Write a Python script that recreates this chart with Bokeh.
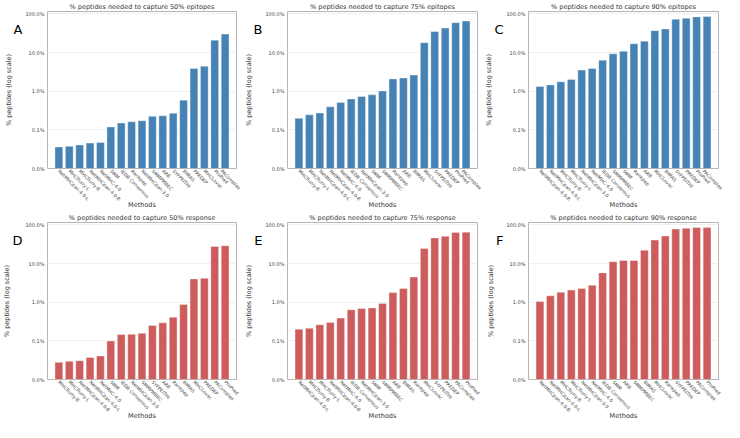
from bokeh.plotting import figure
from bokeh.layouts import gridplot
from bokeh.models import (FactorRange, FixedTicker, PrintfTickFormatter, ColumnDataSource,
                          LogAxis, CustomJSTickFormatter)
from bokeh.embed import file_html
from bokeh.resources import INLINE

# ---- data (values in % of peptides) ----
titles = [
    "% peptides needed to capture 50% epitopes",
    "% peptides needed to capture 75% epitopes",
    "% peptides needed to capture 90% epitopes",
    "% peptides needed to capture 50% response",
    "% peptides needed to capture 75% response",
    "% peptides needed to capture 90% response",
]
letters = ["A", "B", "C", "D", "E", "F"]

methods_a = ["NetMHCpan-4.0-L", "MHCflurry-L", "MHCflurry-B", "NetMHCpan-4.0-B", "NetMHC-4.0", "SMM",
             "IEDB Consensus", "Rankpep", "NetMHCpan-3.0", "SMMPMBEC", "ARB", "SYFPEITHI", "BIMAS",
             "PREDEP", "MHCLovac", "ProPred", "PAComplex"]
values_a = [0.036, 0.0376, 0.0406, 0.0454, 0.0472, 0.119, 0.150, 0.161, 0.171, 0.223, 0.231, 0.269,
            0.585, 3.87, 4.42, 20.9, 29.9]

methods_b = ["MHCflurry-B", "MHCflurry-L", "NetMHCpan-4.0-L", "NetMHCpan-4.0-B", "NetMHC-4.0",
             "IEDB Consensus", "NetMHCpan-3.0", "SMM", "SMMPMBEC", "Rankpep", "ARB", "BIMAS",
             "MHCLovac", "SYFPEITHI", "PREDEP", "ProPred", "PAComplex"]
values_b = [0.199, 0.245, 0.274, 0.393, 0.512, 0.63, 0.733, 0.805, 1.01, 2.08, 2.2, 2.61, 17.9,
            34.8, 42.8, 59.1, 65.0]

methods_c = ["NetMHCpan-4.0-B", "NetMHCpan-4.0-L", "MHCflurry-B", "MHCflurry-L", "NetMHCpan-3.0",
             "NetMHC-4.0", "IEDB Consensus", "SMMPMBEC", "SMM", "Rankpep", "ARB", "MHCLovac", "BIMAS",
             "SYFPEITHI", "PREDEP", "ProPred", "PAComplex"]
values_c = [1.32, 1.45, 1.75, 2.0, 3.52, 3.87, 6.31, 9.24, 10.8, 16.9, 19.7, 36.8, 40.5, 72.8,
            77.1, 83.2, 84.8]

methods_d = ["MHCflurry-B", "MHCflurry-L", "NetMHCpan-4.0-B", "NetMHCpan-4.0-L", "NetMHC-4.0", "SMM",
             "IEDB Consensus", "NetMHCpan-3.0", "SMMPMBEC", "SYFPEITHI", "ARB", "Rankpep", "BIMAS",
             "MHCLovac", "PREDEP", "PAComplex", "ProPred"]
values_d = [0.0278, 0.0295, 0.0306, 0.037, 0.0406, 0.099, 0.145, 0.147, 0.156, 0.25, 0.292, 0.41,
            0.875, 3.99, 4.14, 27.5, 28.6]

methods_e = ["NetMHCpan-4.0-L", "MHCflurry-B", "MHCflurry-L", "NetMHCpan-4.0-B", "NetMHC-4.0",
             "IEDB Consensus", "NetMHCpan-3.0", "SMM", "SMMPMBEC", "ARB", "BIMAS", "Rankpep",
             "MHCLovac", "SYFPEITHI", "PREDEP", "PAComplex", "ProPred"]
values_e = [0.2, 0.211, 0.26, 0.297, 0.387, 0.635, 0.684, 0.711, 0.927, 1.77, 2.26, 4.47, 24.6,
            46.0, 50.6, 63.4, 64.7]

methods_f = ["NetMHCpan-4.0-B", "NetMHCpan-4.0-L", "MHCflurry-B", "MHCflurry-L", "NetMHCpan-3.0",
             "NetMHC-4.0", "IEDB Consensus", "SMM", "ARB", "SMMPMBEC", "BIMAS", "MHCLovac", "Rankpep",
             "SYFPEITHI", "PREDEP", "PAComplex", "ProPred"]
values_f = [1.04, 1.46, 1.8, 2.05, 2.26, 2.73, 5.72, 11.1, 12.0, 12.0, 22.0, 40.3, 51.5, 78.1,
            81.1, 85.9, 85.9]

y_ticks = [0.01, 0.1, 1, 10, 100]
y_start, y_end = 0.01, 115

BLUE = "#4682b4"
RED = "#cd5c5c"
FONT = "DejaVu Sans"

panels = [
    (methods_a, values_a, BLUE),
    (methods_b, values_b, BLUE),
    (methods_c, values_c, BLUE),
    (methods_d, values_d, RED),
    (methods_e, values_e, RED),
    (methods_f, values_f, RED),
]


def no_ticks(ax):
    ax.major_tick_line_color = None
    ax.minor_tick_line_color = None
    ax.major_tick_out = 0
    ax.major_tick_in = 0
    ax.minor_tick_out = 0
    ax.minor_tick_in = 0
    ax.axis_line_color = None


figs = []
for i, (cats, vals, color) in enumerate(panels):
    p = figure(width=241, height=211, x_range=FactorRange(*cats, range_padding=0.07),
               y_axis_type="log", y_range=(y_start, y_end),
               output_backend="svg", toolbar_location=None,
               min_border_left=10, min_border_right=5, min_border_top=8, min_border_bottom=10)
    src = ColumnDataSource(dict(m=cats, v=vals))
    p.vbar(x="m", top="v", bottom=y_start, width=0.75, source=src,
           fill_color=color, line_color="white", line_alpha=0.6, line_width=0.6)
    p.title.text = titles[i]
    p.title.align = "center"
    p.title.text_font = FONT
    p.title.text_font_size = "6.5px"
    p.title.text_font_style = "normal"
    p.title.text_color = "#333333"
    p.title.offset = 0
    p.title.standoff = 1

    p.yaxis.ticker = FixedTicker(ticks=y_ticks)
    p.yaxis.formatter = PrintfTickFormatter(format="%.1f%%")
    p.xaxis.axis_label = "Methods"
    for ax in (p.xaxis[0], p.yaxis[0]):
        ax.axis_label_text_font = FONT
        ax.axis_label_text_font_size = "6.5px"
        ax.axis_label_text_font_style = "normal"
        ax.axis_label_text_color = "#333333"
        ax.axis_label_standoff = 1
        ax.major_label_text_font = FONT
        ax.major_label_text_font_size = "5px"
        ax.major_label_text_color = "#444444"
        ax.major_label_standoff = 3
        no_ticks(ax)
    p.xaxis.major_label_text_font_size = "4.7px"
    p.xaxis.major_label_orientation = -0.785
    p.xaxis.major_label_standoff = 2
    p.xaxis.axis_label_standoff = -6

    # outer left axis: carries the panel letter and the y-axis title
    outer = LogAxis(ticker=FixedTicker(ticks=[40]),
                    formatter=CustomJSTickFormatter(code="return '%s';" % letters[i]),
                    axis_label="% peptides (log scale)")
    outer.axis_label_text_font = FONT
    outer.axis_label_text_font_size = "6.5px"
    outer.axis_label_text_font_style = "normal"
    outer.axis_label_text_color = "#333333"
    outer.axis_label_standoff = -2
    outer.major_label_text_font = FONT
    outer.major_label_text_font_size = "13px"
    outer.major_label_text_color = "black"
    outer.major_label_standoff = 0
    no_ticks(outer)
    p.add_layout(outer, "left")

    p.xgrid.grid_line_color = None
    p.ygrid.grid_line_color = "#f0f0f0"
    p.outline_line_color = "#b5b5b5"
    p.outline_line_width = 1
    p.background_fill_color = "white"
    p.border_fill_color = "white"
    figs.append(p)

grid = gridplot([figs[0:3], figs[3:6]], toolbar_location=None)

open("out.html", "w").write(file_html(grid, INLINE))
